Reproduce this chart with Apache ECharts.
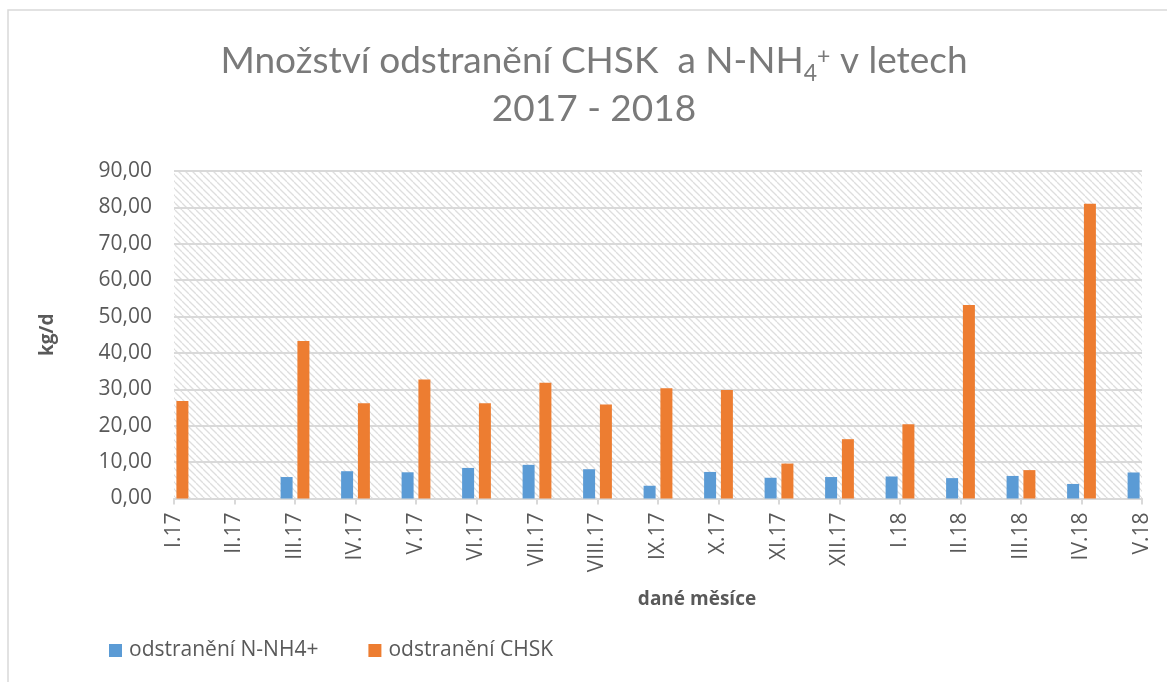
<!DOCTYPE html>
<html>
<head>
<meta charset="utf-8">
<script src="https://cdn.jsdelivr.net/npm/echarts@6/dist/echarts.min.js"></script>
<style>
html,body{margin:0;padding:0;background:#fff;}
#chart{width:1167px;height:682px;}
</style>
</head>
<body>
<div id="chart"></div>
<script>
const categories = ['I.17','II.17','III.17','IV.17','V.17','VI.17','VII.17','VIII.17','IX.17','X.17','XI.17','XII.17','I.18','II.18','III.18','IV.18','V.18'];
const nh4Values  = [null, null, 5.9, 7.5, 7.2, 8.4, 9.25, 8.05, 3.5, 7.3, 5.7, 5.9, 6.05, 5.6, 6.2, 4.0, 7.15];
const chskValues = [26.8, null, 43.25, 26.2, 32.7, 26.2, 31.8, 25.8, 30.3, 29.8, 9.6, 16.3, 20.4, 53.2, 7.8, 81.0, null];
const seriesNames = ['odstranění N-NH4+', 'odstranění CHSK'];
const yAxisName = 'kg/d';
const xAxisName = 'dané měsíce';

// hatch pattern for plot background
const pat = document.createElement('canvas');
pat.width = 7; pat.height = 7;
const pc = pat.getContext('2d');
pc.fillStyle = '#ffffff'; pc.fillRect(0,0,7,7);
pc.strokeStyle = '#dedede'; pc.lineWidth = 1.3;
for (const o of [-7, 0, 7]) {
  pc.beginPath(); pc.moveTo(o, 0); pc.lineTo(o + 7, 7); pc.stroke();
}

const chart = echarts.init(document.getElementById('chart'), null, {renderer: 'canvas'});
const labelColor = '#595959';
const font = '"Open Sans", sans-serif';
const titleColor = '#7a7a7a';

chart.setOption({
  animation: false,
  backgroundColor: '#ffffff',
  graphic: [
    { type: 'rect', shape: {x: 8, y: 10, width: 1300, height: 800}, style: {fill: 'none', stroke: '#d9d9d9', lineWidth: 1.5}, z: 0 },
    { type: 'text', x: 594, y: 37, style: {
        text: '{a|Množství odstranění CHSK  a N-NH}{sub|4}{sup|+}{a| v letech}\n{a|2017 - 2018}',
        align: 'center', verticalAlign: 'top',
        rich: {
          a: {fontFamily: 'Lato, sans-serif', fontSize: 37, fontWeight: 'normal', fill: titleColor, lineHeight: 48, verticalAlign: 'middle'},
          sub: {fontFamily: 'Lato, sans-serif', fontSize: 23, fontWeight: 'normal', fill: titleColor, lineHeight: 48, verticalAlign: 'bottom'},
          sup: {fontFamily: 'Lato, sans-serif', fontSize: 23, fontWeight: 'normal', fill: titleColor, lineHeight: 48, verticalAlign: 'top', padding: [8,0,0,0]}
        }
      }, z: 10 },
    { type: 'text', x: 697, y: 600, style: {text: xAxisName, align: 'center', verticalAlign: 'middle', fontFamily: font, fontSize: 19, fontWeight: 'bold', fill: labelColor}, z: 10 }
  ],
  legend: {
    left: 104, top: 635,
    itemWidth: 13, itemHeight: 13, itemGap: 50,
    icon: 'rect',
    textStyle: {fontFamily: font, fontSize: 21, color: labelColor, padding: [0,0,0,2]},
    data: seriesNames
  },
  grid: {
    left: 174, right: 25, top: 171, bottom: 183.5,
    show: true, borderWidth: 0,
    backgroundColor: {image: pat, repeat: 'repeat'}
  },
  xAxis: {
    type: 'category',
    data: categories,
    boundaryGap: false,
    axisLine: {lineStyle: {color: '#d9d9d9', width: 2}},
    axisTick: {length: 6, lineStyle: {color: '#d9d9d9', width: 2}},
    axisLabel: {rotate: 90, margin: 14, fontFamily: font, fontSize: 21, color: labelColor, interval: 0},
    splitLine: {show: false}
  },
  yAxis: {
    type: 'value',
    min: 0, max: 90, interval: 10,
    name: yAxisName, nameLocation: 'middle', nameGap: 117, nameRotate: 90,
    nameTextStyle: {fontFamily: font, fontSize: 19, fontWeight: 'bold', color: labelColor},
    axisLine: {show: false},
    axisTick: {show: false},
    axisLabel: {margin: 22, fontFamily: font, fontSize: 21, color: labelColor,
      formatter: v => v.toFixed(2).replace('.', ',')},
    splitLine: {lineStyle: {color: '#d9d9d9', width: 2}}
  },
  series: [
    {name: seriesNames[0], type: 'bar', data: nh4Values, barWidth: 12, barGap: '40%', clip: true, itemStyle: {color: '#5B9BD5'}},
    {name: seriesNames[1], type: 'bar', data: chskValues, barWidth: 12, barGap: '40%', clip: true, itemStyle: {color: '#ED7D31'}}
  ]
});
</script>
</body>
</html>
